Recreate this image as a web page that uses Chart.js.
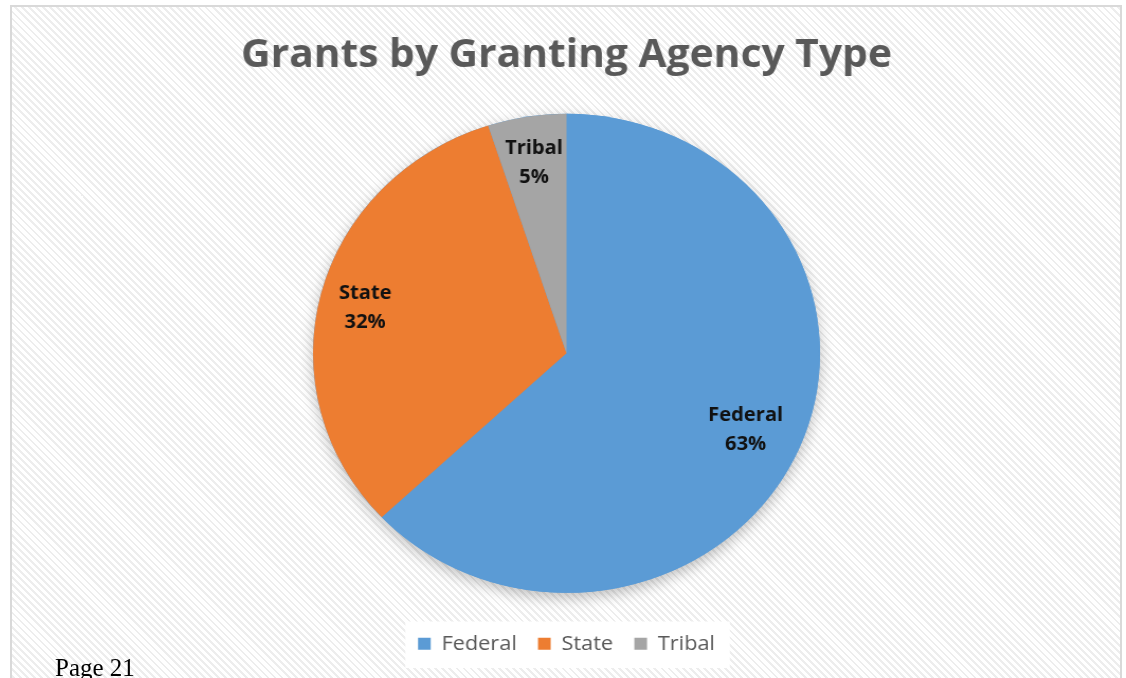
<!DOCTYPE html>
<html>
<head>
<meta charset="utf-8">
<script src="https://cdn.jsdelivr.net/npm/chart.js@4"></script>
<style>
html, body { margin: 0; padding: 0; background: #fff; width: 1126px; height: 678px; overflow: hidden; }
#frame {
  position: absolute; left: 10px; top: 5px; width: 1112px; height: 700px;
  border: 2px solid #d9d9d9; box-sizing: border-box;
  background: repeating-linear-gradient(45deg, #ffffff 0px, #ffffff 3px, #ededed 3px, #ededed 5px);
}
#wrap { position: absolute; left: 0; top: 0; width: 1126px; height: 678px; transform: scaleX(1.0585); transform-origin: 566.5px 0; }
#page { position: absolute; left: 55px; top: 654px; font: 25px "Liberation Serif", serif; color: #000; }
</style>
</head>
<body>
<div id="frame"></div>
<div id="wrap"><canvas id="grantChart" width="1126" height="678"></canvas></div>
<div id="page">Page 21</div>
<script>
// values
const categories = ['Federal', 'State', 'Tribal'];
const shares = [63, 32, 5];
const sliceColors = ['#5B9BD5', '#ED7D31', '#A5A5A5'];

// soft shadow under the whole pie, painted once before the slices
const pieShadow = {
  id: 'pieShadow',
  beforeDatasetsDraw(chart) {
    const arc = chart.getDatasetMeta(0).data[0];
    if (!arc) return;
    const ctx = chart.ctx;
    ctx.save();
    ctx.shadowColor = 'rgba(0,0,0,0.25)';
    ctx.shadowBlur = 14;
    ctx.shadowOffsetY = 5;
    ctx.fillStyle = sliceColors[0];
    ctx.beginPath();
    ctx.arc(arc.x, arc.y, arc.outerRadius, 0, Math.PI * 2);
    ctx.fill();
    ctx.restore();
  }
};

// white box behind the legend
const legendBack = {
  id: 'legendBack',
  beforeDraw(chart) {
    const boxes = chart.legend && chart.legend.legendHitBoxes;
    if (!boxes || !boxes.length) return;
    let l = Infinity, r = -Infinity, t = Infinity, b = -Infinity;
    boxes.forEach(h => {
      l = Math.min(l, h.left); r = Math.max(r, h.left + h.width);
      t = Math.min(t, h.top); b = Math.max(b, h.top + h.height);
    });
    const ctx = chart.ctx;
    ctx.save();
    ctx.fillStyle = '#ffffff';
    ctx.fillRect(l - 12, t - 12, r - l + 26, b - t + 26);
    ctx.restore();
  }
};

// category name and percent inside each slice
const sliceLabels = {
  id: 'sliceLabels',
  afterDatasetsDraw(chart) {
    const ctx = chart.ctx;
    const meta = chart.getDatasetMeta(0);
    ctx.save();
    ctx.font = 'bold 19px "Open Sans"';
    ctx.fillStyle = '#111111';
    ctx.textAlign = 'center';
    ctx.textBaseline = 'middle';
    meta.data.forEach((arc, i) => {
      const p = arc.getProps(['x', 'y', 'startAngle', 'endAngle', 'outerRadius'], true);
      const mid = (p.startAngle + p.endAngle) / 2;
      const r = p.outerRadius * (i === 0 ? 0.77 : 0.82);
      const cx = p.x + Math.cos(mid) * r;
      const cy = p.y + Math.sin(mid) * r + 3.5;
      ctx.fillText(categories[i], cx, cy - 14.5);
      ctx.fillText(shares[i] + '%', cx, cy + 14.5);
    });
    ctx.restore();
  }
};

new Chart(document.getElementById('grantChart'), {
  type: 'pie',
  data: {
    labels: categories,
    datasets: [{
      data: shares,
      backgroundColor: sliceColors,
      borderWidth: 0,
      radius: 239.5
    }]
  },
  options: {
    responsive: false,
    animation: false,
    layout: { padding: { left: 7, right: 0, top: 0, bottom: 14 } },
    plugins: {
      title: {
        display: true,
        text: 'Grants by Granting Agency Type',
        color: '#595959',
        font: { family: '"Open Sans"', size: 38.5, weight: 'bold', lineHeight: 1.2 },
        padding: { top: 33, bottom: 14 }
      },
      legend: {
        position: 'bottom',
        labels: {
          color: '#595959',
          font: { family: '"Open Sans"', size: 20.5 },
          boxWidth: 12,
          boxHeight: 12,
          padding: 20
        }
      },
      tooltip: { enabled: false }
    }
  },
  plugins: [pieShadow, legendBack, sliceLabels]
});
</script>
</body>
</html>
